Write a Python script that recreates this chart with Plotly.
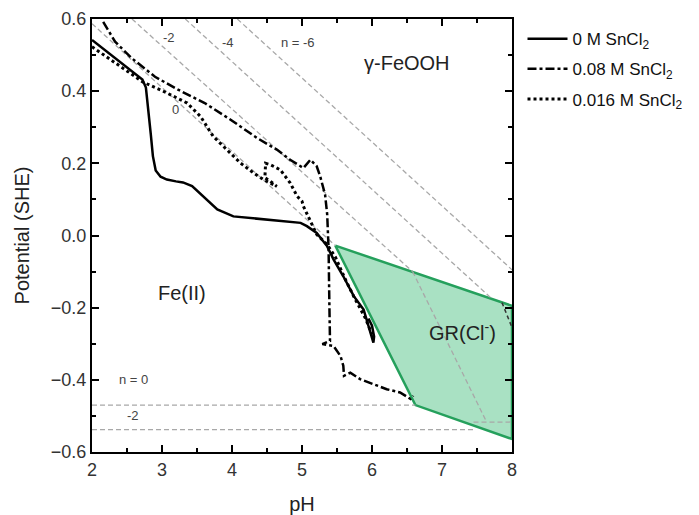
import plotly.graph_objects as go

# ---------------- data ----------------
# 0 M SnCl2 (solid)
s0_ph = [2.0, 2.3, 2.6, 2.72, 2.77, 2.79, 2.81, 2.84, 2.87, 2.91, 2.98, 3.07, 3.2, 3.3, 3.43, 3.59,
         3.79, 4.02, 4.5, 4.98, 5.07, 5.21, 5.36, 5.45, 5.59, 5.74, 5.88, 5.98, 6.02, 6.03, 6.0, 5.95]
s0_e = [0.542, 0.497, 0.452, 0.432, 0.41, 0.376, 0.335, 0.28, 0.22, 0.18, 0.163, 0.155, 0.15, 0.147,
        0.137, 0.109, 0.072, 0.053, 0.044, 0.035, 0.026, 0.007, -0.03, -0.066, -0.113, -0.168, -0.205,
        -0.269, -0.297, -0.28, -0.25, -0.23]

# 0.08 M SnCl2 (dash-dot)
s1_ph = [2.16, 2.33, 2.57, 2.9, 3.23, 3.61, 3.98, 4.36, 4.64, 4.83, 5.02, 5.08, 5.12, 5.17, 5.21,
         5.26, 5.33, 5.36, 5.38, 5.39, 5.40, 5.29, 5.45, 5.55, 5.59, 5.6, 5.69, 5.83, 6.02, 6.21,
         6.40, 6.55, 6.59]
s1_e = [0.592, 0.537, 0.491, 0.44, 0.404, 0.367, 0.321, 0.270, 0.238, 0.210, 0.187, 0.2, 0.210, 0.2,
        0.192, 0.164, 0.113, 0.058, -0.039, -0.177, -0.292, -0.301, -0.306, -0.334, -0.361, -0.389,
        -0.38, -0.398, -0.412, -0.426, -0.435, -0.453, -0.444]

# 0.016 M SnCl2 (dotted)
s2_ph = [2.0, 2.3, 2.6, 2.73, 2.9, 3.07, 3.36, 3.55, 3.73, 3.93, 4.12, 4.31, 4.45, 4.55, 4.64, 4.55,
         4.47, 4.48, 4.55, 4.69, 4.83, 4.93, 5.0, 5.02, 5.12, 5.21, 5.36, 5.48, 5.62, 5.76, 5.9, 6.0]
s2_e = [0.523, 0.483, 0.443, 0.425, 0.41, 0.395, 0.367, 0.33, 0.275, 0.238, 0.201, 0.173, 0.155,
        0.145, 0.136, 0.15, 0.16, 0.2, 0.196, 0.182, 0.146, 0.109, 0.095, 0.081, 0.04, 0.003, -0.025,
        -0.061, -0.122, -0.177, -0.227, -0.274]

series_names = ["0 M SnCl<sub>2</sub>", "0.08 M SnCl<sub>2</sub>", "0.016 M SnCl<sub>2</sub>"]

# GR(Cl-) stability field
gr_ph = [5.476, 8.0, 8.0, 6.62, 5.476]
gr_e = [-0.028, -0.195, -0.564, -0.47, -0.028]

# iso-activity boundary lines (label -> (pH list, E list))
iso_lines = {
    "n0_upper": ([2.0, 5.476], [0.587, -0.028]),
    "n-2_upper": ([2.571, 6.58], [0.6, -0.10]),
    "n-2_gr": ([6.58, 7.62], [-0.10, -0.51]),
    "n-4_upper": ([3.333, 7.717], [0.6, -0.176]),
    "n-6_upper": ([4.076, 8.0], [0.6, -0.095]),
    "n0_lower": ([2.0, 6.62], [-0.47, -0.47]),
    "n-2_lower": ([2.0, 7.45], [-0.538, -0.538]),
    "n-2_lower_b": ([7.45, 8.0], [-0.517, -0.517]),
}
dark_seg_ph = [7.857, 8.0]
dark_seg_e = [-0.186, -0.255]

# text labels
small_lbl_txt = ["-2", "-4", "n = -6", "0", "n = 0", "-2"]
small_lbl_ph = [3.104, 3.947, 4.947, 3.19, 2.59, 2.59]
small_lbl_e = [0.55, 0.534, 0.534, 0.348, -0.398, -0.50]

big_lbl_txt = ["γ-FeOOH", "Fe(II)", "GR(Cl<sup>-</sup>)"]
big_lbl_ph = [6.5, 3.29, 7.29]
big_lbl_e = [0.478, -0.158, -0.265]

x_ticks = [2, 3, 4, 5, 6, 7, 8]
y_ticks = [-0.6, -0.4, -0.2, 0.0, 0.2, 0.4, 0.6]

# ---------------- figure ----------------
FONT = "Liberation Sans, Arial, sans-serif"

fig = go.Figure()

fig.add_trace(go.Scatter(x=gr_ph, y=gr_e, mode="lines", fill="toself",
                         fillcolor="rgba(140,215,175,0.75)",
                         line=dict(color="#25a05c", width=2.5),
                         showlegend=False, hoverinfo="skip"))

for key, (px_, pe_) in iso_lines.items():
    fig.add_trace(go.Scatter(x=px_, y=pe_, mode="lines",
                             line=dict(color="#a8a8a8", width=1.3, dash="5px,3px"),
                             showlegend=False, hoverinfo="skip"))
fig.add_trace(go.Scatter(x=dark_seg_ph, y=dark_seg_e, mode="lines",
                         line=dict(color="#333333", width=1.5, dash="4px,3px"),
                         showlegend=False, hoverinfo="skip"))

fig.add_trace(go.Scatter(x=s0_ph, y=s0_e, mode="lines", name=series_names[0], legendgroup="a",
                         line=dict(color="black", width=2.5)))
fig.add_trace(go.Scatter(x=s1_ph, y=s1_e, mode="lines", name=series_names[1], legendgroup="b",
                         line=dict(color="black", width=2.5, dash="9px,3px,3px,3px")))
fig.add_trace(go.Scatter(x=s2_ph, y=s2_e, mode="lines", name=series_names[2], legendgroup="c",
                         line=dict(color="black", width=3, dash="3px,3px")))

for t, x, y in zip(small_lbl_txt, small_lbl_ph, small_lbl_e):
    fig.add_annotation(x=x, y=y, text=t, showarrow=False,
                       font=dict(family=FONT, size=13, color="#444"))
for t, x, y in zip(big_lbl_txt, big_lbl_ph, big_lbl_e):
    fig.add_annotation(x=x, y=y, text=t, showarrow=False,
                       font=dict(family=FONT, size=20, color="#222"))

axis_common = dict(showline=True, linewidth=2, linecolor="black", mirror="ticks",
                   ticks="inside", ticklen=7, tickwidth=1.5, tickcolor="black",
                   showgrid=False, zeroline=False,
                   tickfont=dict(family=FONT, size=18, color="#333"))

fig.update_xaxes(range=[2, 8], tickvals=x_ticks,
                 minor=dict(dtick=0.5, ticks="inside", ticklen=4, tickcolor="black", tickwidth=1.5),
                 title=dict(text="pH", font=dict(family=FONT, size=20, color="#222"), standoff=20),
                 **axis_common)
fig.update_yaxes(range=[-0.6, 0.6], tickvals=y_ticks, tickformat=".1f",
                 minor=dict(dtick=0.1, ticks="inside", ticklen=4, tickcolor="black", tickwidth=1.5),
                 title=dict(text="Potential (SHE)", font=dict(family=FONT, size=20, color="#222"), standoff=16),
                 **axis_common)

fig.update_layout(
    width=699, height=515,
    margin=dict(l=92, r=187, t=19, b=63, autoexpand=False),
    paper_bgcolor="white", plot_bgcolor="white",
    legend=dict(x=1.025, y=0.995, xanchor="left", yanchor="top",
                font=dict(family=FONT, size=17, color="#111"),
                bgcolor="rgba(0,0,0,0)", itemwidth=40, tracegroupgap=5),
)

fig.write_html("out.html")
